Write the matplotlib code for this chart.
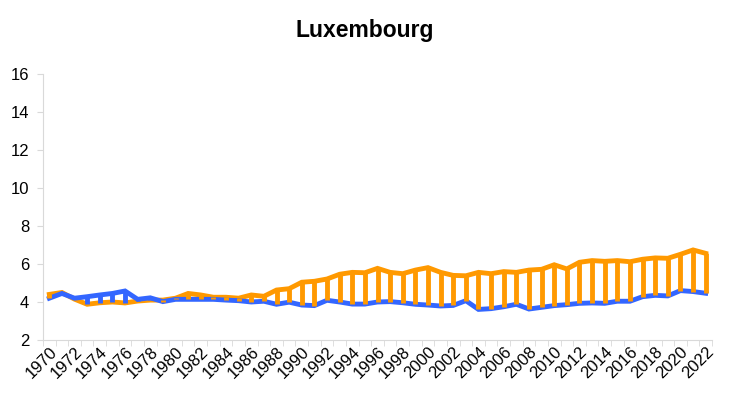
import numpy as np
from matplotlib import pyplot as plt

years = np.arange(1970, 2023)
orange = [4.40, 4.50, 4.15, 3.88, 3.96, 4.00, 3.95, 4.05, 4.10, 4.10,
          4.20, 4.45, 4.37, 4.25, 4.25, 4.20, 4.37, 4.30, 4.63, 4.70,
          5.04, 5.09, 5.21, 5.46, 5.56, 5.54, 5.77, 5.56, 5.49, 5.68,
          5.81, 5.56, 5.40, 5.38, 5.56, 5.49, 5.60, 5.56, 5.68, 5.72,
          5.96, 5.74, 6.09, 6.18, 6.14, 6.18, 6.12, 6.25, 6.32, 6.30,
          6.51, 6.74, 6.56]
blue = [4.20, 4.45, 4.20, 4.28, 4.37, 4.45, 4.58, 4.14, 4.22, 4.02,
        4.14, 4.14, 4.14, 4.14, 4.10, 4.07, 4.00, 4.04, 3.88, 3.99,
        3.84, 3.81, 4.09, 4.00, 3.89, 3.89, 4.00, 4.02, 3.96, 3.88,
        3.84, 3.79, 3.82, 4.07, 3.61, 3.65, 3.75, 3.88, 3.63, 3.72,
        3.81, 3.86, 3.93, 3.95, 3.93, 4.04, 4.04, 4.28, 4.35, 4.32,
        4.60, 4.55, 4.46]
title = 'Luxembourg'

c_orange = '#FF9900'
c_blue = '#3366FF'
grey = '#D9D9D9'

plt.rcParams['font.family'] = ['Liberation Sans', 'DejaVu Sans']

fig = plt.figure(figsize=(7.30, 3.96), dpi=100)
ax = fig.add_axes([43/730, 1-340/396, (712-43)/730, (340-74)/396])

o = np.array(orange)
b = np.array(blue)
ax.plot(years, o, color=c_orange, linewidth=3.5, solid_joinstyle='miter', zorder=2)
ax.plot(years, b, color=c_blue, linewidth=3.5, solid_joinstyle='miter', zorder=3)
up = o >= b
ax.vlines(years[up], b[up], o[up], colors=c_orange, linewidth=3.5, zorder=4)
ax.vlines(years[~up], o[~up], b[~up], colors=c_blue, linewidth=3.5, zorder=4)

ax.set_xlim(1969.5, 2022.5)
ax.set_ylim(2, 16)
ax.set_yticks(range(2, 17, 2))
ax.set_xticks(years[::2])
ax.set_xticks(np.arange(1969.5, 2023, 1), minor=True)
ax.tick_params(axis='x', which='major', length=0, labelsize=12, pad=3)
ax.tick_params(axis='x', which='minor', length=4, color=grey)
ax.tick_params(axis='y', length=4, color=grey, labelsize=12, pad=6)
plt.setp(ax.get_xticklabels(), rotation=45, ha='right', rotation_mode='anchor')

for s in ['top', 'right']:
    ax.spines[s].set_visible(False)
for s in ['left', 'bottom']:
    ax.spines[s].set_color(grey)

fig.text(0.5, 1-30/396, title, ha='center', va='center', fontsize=16.5, fontweight='bold')
plt.savefig('out.png', dpi=100)
